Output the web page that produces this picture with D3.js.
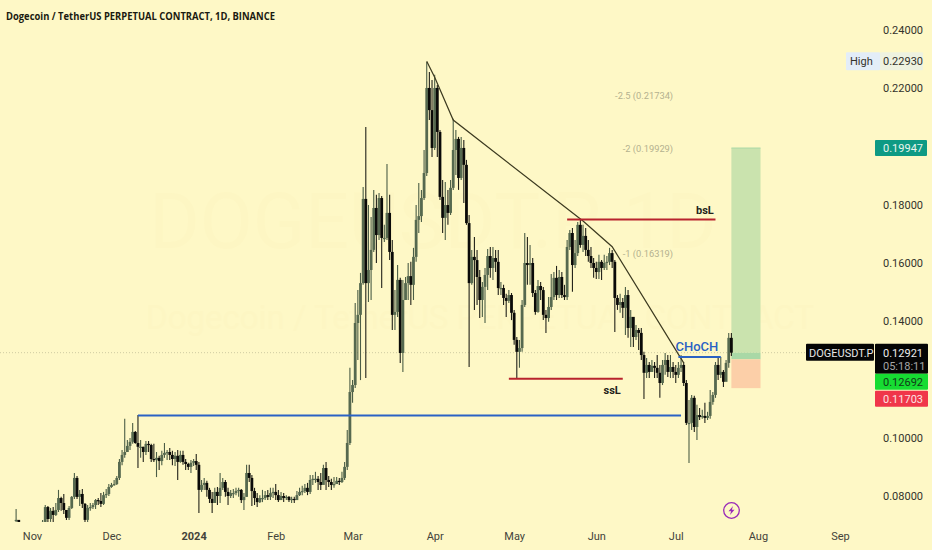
<!DOCTYPE html>
<html>
  <head>
    <meta charset="utf-8" />
    <title>DOGEUSDT.P 1D</title>
    <script src="https://d3js.org/d3.v7.min.js"></script>
    <style>
        body {
            margin: 0;
            background: #fef8c6;
        }
        text {
            font-family: Roboto, sans-serif;
        }
        .domain {
            display: none;
        }
    </style>
  </head>
  <body>
    <svg id="chart">
        <defs>
            <clipPath id="pane"><rect id="paneRect"></rect></clipPath>
        </defs>
        <g id="watermark"></g>
        <g id="position"></g>
        <g id="candles" clip-path="url(#pane)"></g>
        <g id="drawings"></g>
        <g id="x"></g>
        <g id="y"></g>
        <g id="tags"></g>
        <g id="icon"></g>
    </svg>

    <script>
        // daily candles, first one is 2023-10-26, open = previous close
        var firstOpen = 0.0715;
        var closes = [
            .0718,.0704,.0697,.0694,.0701,.0704,.0697,.0701,.0697,.0704,
            .0711,.0762,.0721,.0749,.0735,.0752,.0793,.0776,.0752,.0725,
            .0759,.0797,.0862,.0797,.0807,.0773,.0718,.0759,.0762,.0769,
            .0786,.0783,.0773,.0803,.0807,.0831,.0838,.0841,.0862,.0917,
            .0941,.0951,.0972,.0986,.1020,.0982,.0969,.0969,.0951,.0979,
            .0975,.0927,.0924,.0931,.0920,.0941,.0948,.0951,.0941,.0927,
            .0938,.0917,.0941,.0917,.0910,.0900,.0914,.0920,.0907,.0821,
            .0838,.0845,.0821,.0790,.0776,.0814,.0800,.0828,.0848,.0814,
            .0800,.0810,.0810,.0817,.0821,.0786,.0797,.0879,.0862,.0817,
            .0793,.0779,.0793,.0793,.0803,.0797,.0810,.0814,.0803,.0786,
            .0800,.0793,.0797,.0786,.0790,.0786,.0803,.0814,.0817,.0828,
            .0814,.0855,.0859,.0859,.0848,.0838,.0896,.0855,.0848,.0838,
            .0841,.0852,.0848,.0862,.0900,.0982,.1157,.1181,.1394,.1422,
            .1531,.1820,.1531,.1576,.1645,.1789,.1696,.1823,.1686,.1686,
            .1772,.1638,.1422,.1432,.1542,.1291,.1473,.1531,.1555,.1525,
            .1621,.1748,.1761,.1823,.1909,.2201,.2125,.1995,.2201,.2050,
            .1827,.1755,.1799,.1772,.1858,.1988,.2026,.1892,.1995,.1937,
            .1737,.1531,.1621,.1610,.1552,.1473,.1518,.1559,.1624,.1583,
            .1617,.1604,.1514,.1514,.1480,.1470,.1490,.1429,.1336,.1295,
            .1308,.1456,.1600,.1593,.1600,.1497,.1432,.1521,.1507,.1422,
            .1411,.1449,.1483,.1549,.1490,.1552,.1490,.1483,.1655,.1703,
            .1593,.1634,.1731,.1662,.1693,.1645,.1624,.1600,.1583,.1569,
            .1604,.1583,.1600,.1604,.1634,.1604,.1480,.1456,.1466,.1446,
            .1490,.1377,.1415,.1346,.1370,.1360,.1284,.1223,.1250,.1226,
            .1247,.1240,.1223,.1188,.1250,.1267,.1226,.1243,.1226,.1216,
            .1240,.1250,.1188,.1051,.1051,.1137,.1037,.1078,.1071,.1075,
            .1068,.1075,.1123,.1147,.1250,.1216,.1226,.1192,.1257,.1343,.12921
        ];
        var highs = [
            .0755,.0711,.0704,.0701,.0707,.0709,.0704,.0709,.0704,.0707,
            .0718,.0769,.0766,.0759,.0762,.0776,.0821,.0797,.0807,.0752,
            .0766,.0800,.0879,.0869,.0821,.0824,.0776,.0769,.0776,.0776,
            .0790,.0793,.0810,.0814,.0824,.0841,.0845,.0855,.0869,.0927,
            .0958,.1065,.0992,.0999,.1051,.1023,.1078,.0992,.0969,.0989,
            .0989,.0979,.0979,.0951,.0938,.0955,.0982,.0958,.0965,.0955,
            .0951,.0958,.0955,.0955,.0927,.0914,.0924,.0927,.0944,.0917,
            .0855,.0862,.0852,.0828,.0814,.0828,.0831,.0879,.0862,.0855,
            .0828,.0821,.0824,.0828,.0828,.0824,.0810,.0907,.0907,.0872,
            .0828,.0810,.0803,.0821,.0817,.0821,.0828,.0828,.0841,.0821,
            .0814,.0810,.0803,.0800,.0797,.0797,.0817,.0828,.0835,.0841,
            .0845,.0872,.0872,.0883,.0869,.0879,.0907,.0917,.0869,.0859,
            .0865,.0865,.0862,.0883,.0917,.1027,.1240,.1198,.1463,.1507,
            .1566,.1861,.2067,.1799,.1758,.1851,.1834,.1840,.1830,.1731,
            .1940,.1834,.1679,.1507,.1593,.1549,.1542,.1552,.1600,.1604,
            .1652,.1799,.1875,.1851,.1988,.2290,.2256,.2228,.2246,.2211,
            .2057,.1885,.1878,.1851,.1885,.2095,.2057,.2033,.2033,.2022,
            .1954,.1765,.1645,.1689,.1645,.1576,.1535,.1583,.1648,.1655,
            .1655,.1645,.1645,.1535,.1525,.1494,.1507,.1497,.1439,.1346,
            .1336,.1473,.1703,.1689,.1662,.1617,.1507,.1542,.1535,.1518,
            .1439,.1483,.1562,.1569,.1590,.1576,.1569,.1525,.1679,.1713,
            .1720,.1679,.1741,.1748,.1731,.1720,.1679,.1655,.1617,.1604,
            .1628,.1610,.1628,.1624,.1652,.1645,.1610,.1490,.1494,.1480,
            .1518,.1507,.1439,.1387,.1387,.1377,.1377,.1295,.1274,.1260,
            .1267,.1260,.1284,.1250,.1267,.1291,.1284,.1284,.1260,.1250,
            .1260,.1284,.1260,.1198,.1130,.1147,.1144,.1113,.1102,.1096,
            .1120,.1089,.1164,.1157,.1260,.1277,.1277,.1233,.1267,.1360,.1360
        ];
        var lows = [
            .0704,.0690,.0687,.0680,.0683,.0690,.0683,.0687,.0680,.0690,
            .0697,.0704,.0711,.0711,.0704,.0731,.0745,.0749,.0738,.0718,
            .0718,.0755,.0790,.0790,.0766,.0759,.0711,.0711,.0749,.0755,
            .0755,.0769,.0762,.0769,.0793,.0800,.0828,.0835,.0838,.0855,
            .0906,.0931,.0951,.0958,.0979,.0979,.0896,.0931,.0917,.0941,
            .0951,.0917,.0917,.0865,.0889,.0906,.0931,.0924,.0924,.0906,
            .0903,.0855,.0914,.0907,.0889,.0889,.0879,.0903,.0889,.0742,
            .0814,.0821,.0797,.0776,.0742,.0776,.0769,.0776,.0821,.0797,
            .0769,.0793,.0793,.0803,.0797,.0776,.0752,.0797,.0848,.0766,
            .0769,.0762,.0776,.0779,.0786,.0786,.0786,.0793,.0786,.0779,
            .0786,.0779,.0786,.0779,.0776,.0776,.0790,.0800,.0803,.0810,
            .0803,.0807,.0838,.0845,.0821,.0821,.0845,.0821,.0831,.0821,
            .0828,.0841,.0838,.0845,.0855,.0889,.0975,.1120,.1171,.1267,
            .1198,.1525,.1205,.1466,.1473,.1638,.1600,.1679,.1514,.1672,
            .1679,.1610,.1370,.1370,.1415,.1257,.1226,.1473,.1473,.1456,
            .1473,.1604,.1703,.1741,.1816,.1899,.2091,.1964,.1988,.1964,
            .1816,.1703,.1679,.1731,.1765,.1851,.1902,.1851,.1885,.1806,
            .1731,.1243,.1525,.1439,.1456,.1411,.1415,.1394,.1507,.1549,
            .1542,.1569,.1490,.1490,.1456,.1415,.1463,.1404,.1319,.1205,
            .1240,.1295,.1449,.1525,.1525,.1483,.1422,.1429,.1473,.1404,
            .1360,.1398,.1439,.1473,.1473,.1480,.1480,.1473,.1473,.1645,
            .1501,.1583,.1624,.1652,.1638,.1624,.1604,.1583,.1549,.1545,
            .1545,.1542,.1576,.1576,.1593,.1583,.1363,.1439,.1429,.1411,
            .1353,.1343,.1312,.1312,.1336,.1301,.1267,.1133,.1205,.1205,
            .1226,.1205,.1205,.1137,.1181,.1216,.1209,.1205,.1205,.1188,
            .1205,.1226,.1178,.1044,.0913,.1027,.1020,.0992,.1061,.1065,
            .1051,.1061,.1065,.1113,.1137,.1198,.1205,.1174,.1205,.1240,.1281
        ];

        var priceTicks = [0.08, 0.10, 0.14, 0.16, 0.18, 0.22, 0.24];
        var monthTicks = ["2023-11-01", "2023-12-01", "2024-01-01", "2024-02-01", "2024-03-01", "2024-04-01", "2024-05-01", "2024-06-01", "2024-07-01", "2024-08-01", "2024-09-01"];
        var monthLabels = ["Nov", "Dec", "2024", "Feb", "Mar", "Apr", "May", "Jun", "Jul", "Aug", "Sep"];

        var trendDates = ["2024-03-29", "2024-04-01", "2024-04-08", "2024-05-27", "2024-06-07", "2024-07-04"];
        var trendPrices = [0.2293, 0.2238, 0.2091, 0.1744, 0.1656, 0.1257];

        var levelNames = ["swing", "bsL", "ssL", "CHoCH"];
        var levelPrices = [0.1076, 0.17495, 0.1203, 0.1277];
        var levelStarts = ["2023-12-11", "2024-05-21", "2024-04-29", "2024-07-02"];
        var levelEnds = ["2024-07-03", "2024-07-16", "2024-06-11", "2024-07-18"];
        var levelColors = ["#2a62c4", "#b8232d", "#b8232d", "#2a62c4"];

        var fibLabels = ["-2.5 (0.21734)", "-2 (0.19929)", "-1 (0.16319)"];
        var fibPrices = [0.21734, 0.19929, 0.16319];

        var targetPrice = 0.19947, entryPrice = 0.12692, stopPrice = 0.11703, lastPrice = 0.12921, highPrice = 0.22930;
        var positionDates = ["2024-07-22", "2024-08-02"];

        var width = 932;
        var height = 550;
        var paneBottom = 522;

        var svg = d3.select("#chart")
            .attr("width", width)
            .attr("height", height)
            .style("display", "block");

        d3.select("#paneRect").attr("x", 0).attr("y", 0).attr("width", 800).attr("height", paneBottom);

        var parseDay = d3.timeParse("%Y-%m-%d");

        var x = d3.scaleTime()
            .domain([parseDay("2023-11-01"), parseDay("2024-09-01")])
            .range([32, 840]);

        var y = d3.scaleLinear()
            .domain([0.08, 0.24])
            .range([496, 30]);

        // watermark
        var wm = d3.select("#watermark");
        wm.append("text").attr("x", 433).attr("y", 248).attr("text-anchor", "middle")
            .attr("font-size", 77).attr("fill", "#fdf6c3").text("DOGEUSDT.P, 1D");
        wm.append("text").attr("x", 480).attr("y", 329).attr("text-anchor", "middle")
            .attr("font-size", 33).attr("fill", "#fdf6c3").text("Dogecoin / TetherUS PERPETUAL CONTRACT");

        // last price line
        svg.select("#position").append("line")
            .attr("x1", 0).attr("x2", 805)
            .attr("y1", y(lastPrice)).attr("y2", y(lastPrice))
            .attr("stroke", "#cfcca2").attr("stroke-dasharray", "1,2");

        // long position box
        var boxLeft = x(parseDay(positionDates[0]));
        var boxWidth = x(parseDay(positionDates[1])) - boxLeft;
        var boxes = [
            {top: targetPrice, bottom: lastPrice, fill: "#cae3ae"},
            {top: lastPrice, bottom: entryPrice, fill: "#a9d8a6"},
            {top: entryPrice, bottom: stopPrice, fill: "#fccfa8"}
        ];
        svg.select("#position").selectAll("rect").data(boxes).enter().append("rect")
            .attr("x", boxLeft)
            .attr("width", boxWidth)
            .attr("y", function(d) { return y(d.top); })
            .attr("height", function(d) { return y(d.bottom) - y(d.top); })
            .attr("fill", function(d) { return d.fill; });
        svg.select("#position").append("line")
            .attr("x1", boxLeft).attr("x2", boxLeft + boxWidth)
            .attr("y1", y(targetPrice)).attr("y2", y(targetPrice))
            .attr("stroke", "#a9d8a6");

        // candles
        var day0 = parseDay("2023-10-26");
        var candles = closes.map(function(c, i) {
            return {
                date: d3.timeDay.offset(day0, i),
                open: i == 0 ? firstOpen : closes[i - 1],
                high: highs[i],
                low: lows[i],
                close: c
            };
        });
        var upColor = "#56694f";
        var downColor = "#0a0a08";

        var candle = svg.select("#candles").selectAll("g").data(candles).enter().append("g");
        candle.append("line")
            .attr("x1", function(d) { return x(d.date); })
            .attr("x2", function(d) { return x(d.date); })
            .attr("y1", function(d) { return y(d.high); })
            .attr("y2", function(d) { return y(d.low); })
            .attr("stroke", function(d) { return d.close >= d.open ? "#4c5e46" : "#22221a"; })
            .attr("stroke-width", 1.1);
        candle.append("rect")
            .attr("x", function(d) { return x(d.date) - 1.4; })
            .attr("width", 2.8)
            .attr("y", function(d) { return y(Math.max(d.open, d.close)); })
            .attr("height", function(d) { return Math.max(1.2, Math.abs(y(d.open) - y(d.close))); })
            .attr("fill", function(d) { return d.close >= d.open ? upColor : downColor; });

        // drawings
        var drawings = svg.select("#drawings");
        var trend = d3.line()
            .x(function(d) { return x(parseDay(d)); })
            .y(function(d, i) { return y(trendPrices[i]); });
        drawings.append("path")
            .attr("d", trend(trendDates))
            .attr("fill", "none")
            .attr("stroke", "#3c3a20")
            .attr("stroke-width", 1.2);

        levelNames.forEach(function(name, i) {
            drawings.append("line")
                .attr("x1", x(parseDay(levelStarts[i])))
                .attr("x2", x(parseDay(levelEnds[i])))
                .attr("y1", y(levelPrices[i]))
                .attr("y2", y(levelPrices[i]))
                .attr("stroke", levelColors[i])
                .attr("stroke-width", 2);
        });

        drawings.append("text").attr("x", x(parseDay("2024-07-12"))).attr("y", y(levelPrices[1]) - 5)
            .attr("text-anchor", "middle").attr("font-size", 11).attr("font-weight", 700).attr("fill", "#23231a")
            .text("bsL");
        drawings.append("text").attr("x", x(parseDay("2024-06-07"))).attr("y", y(levelPrices[2]) + 15)
            .attr("text-anchor", "middle").attr("font-size", 11).attr("font-weight", 700).attr("fill", "#23231a")
            .text("ssL");
        drawings.append("text").attr("x", x(parseDay("2024-07-09"))).attr("y", y(levelPrices[3]) - 6)
            .attr("text-anchor", "middle").attr("font-size", 13).attr("font-weight", 500).attr("fill", "#2a62c4")
            .text("CHoCH");

        fibLabels.forEach(function(label, i) {
            drawings.append("text")
                .attr("x", x(parseDay("2024-06-30")))
                .attr("y", y(fibPrices[i]) + 3)
                .attr("text-anchor", "end")
                .attr("font-size", 9.3)
                .attr("fill", "#b4b18f")
                .text(label);
        });

        drawings.append("text").attr("x", 6).attr("y", 20)
            .attr("font-size", 11).attr("font-weight", 700)
            .attr("fill", "#1a1a10")
            .attr("textLength", 269)
            .attr("lengthAdjust", "spacingAndGlyphs")
            .style("font-family", "'Open Sans', sans-serif")
            .text("Dogecoin / TetherUS PERPETUAL CONTRACT, 1D, BINANCE");

        // axes
        var xAxis = d3.axisBottom(x)
            .tickValues(monthTicks.map(parseDay))
            .tickSize(0)
            .tickFormat(function(d, i) { return monthLabels[i]; });
        svg.select("#x")
            .attr("transform", "translate(0," + 536.5 + ")")
            .call(xAxis)
            .selectAll("text")
            .attr("font-size", 11)
            .attr("y", 0)
            .attr("dy", ".32em")
            .attr("fill", "#43433a")
            .attr("font-weight", function(d, i) { return monthLabels[i] == "2024" ? 700 : 400; });

        var yAxis = d3.axisRight(y)
            .tickValues(priceTicks)
            .tickSize(0)
            .tickFormat(d3.format(".5f"));
        svg.select("#y")
            .attr("transform", "translate(883,0)")
            .call(yAxis)
            .selectAll("text")
            .attr("x", 0)
            .attr("font-size", 11)
            .attr("fill", "#33332b");

        // price tags on the scale
        var tags = svg.select("#tags");
        function tag(px, py, w, h, fill) {
            tags.append("rect").attr("x", px).attr("y", py).attr("width", w).attr("height", h).attr("rx", 1).attr("fill", fill);
        }
        function tagText(px, py, label, color) {
            tags.append("text").attr("x", px).attr("y", py).attr("font-size", 11).attr("fill", color).text(label);
        }
        var fmt = d3.format(".5f");

        tag(846, y(highPrice) - 9, 34, 18, "#e3edf8");
        tag(880, y(highPrice) - 9, 43, 18, "#eef2e0");
        tagText(850, y(highPrice) + 4, "High", "#33332b");
        tagText(883, y(highPrice) + 4, fmt(highPrice), "#33332b");

        tag(875, y(targetPrice) - 8, 52, 16, "#0e9a84");
        tagText(883, y(targetPrice) + 4, fmt(targetPrice), "#e9f6ee");

        tag(806, y(lastPrice) - 9, 68, 17, "#050505");
        tagText(809, y(lastPrice) + 4, "DOGEUSDT.P", "#e6e6e6");
        tag(875, y(lastPrice) - 9, 53, 30, "#050505");
        tagText(883, y(lastPrice) + 4, fmt(lastPrice), "#ececec");
        tagText(883, y(lastPrice) + 17, "05:18:11", "#a5a5a5");

        tag(875, y(lastPrice) + 21, 53, 16, "#16dc32");
        tagText(883, y(lastPrice) + 33, fmt(entryPrice), "#123a18");
        tag(875, y(lastPrice) + 38, 53, 16, "#f0364a");
        tagText(883, y(lastPrice) + 50, fmt(stopPrice), "#fbe3e3");

        // lightning icon
        var icon = svg.select("#icon").attr("transform", "translate(731.5,510.5)");
        icon.append("circle").attr("r", 7.8).attr("fill", "none").attr("stroke", "#9a2bb8").attr("stroke-width", 1.3);
        icon.append("path").attr("d", "M1.5,-4.5L-3,0.8L-0.4,0.8L-1.5,4.5L3,-0.8L0.4,-0.8Z").attr("fill", "#9a2bb8");
    </script>
  </body>
</html>
